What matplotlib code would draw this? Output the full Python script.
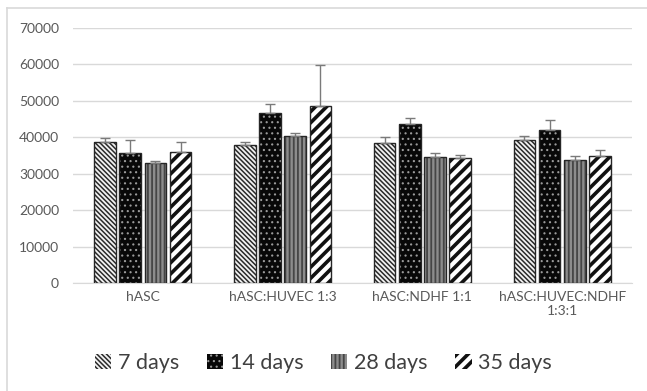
import matplotlib
matplotlib.use("Agg")
import matplotlib.pyplot as plt
import numpy as np

plt.rcParams['font.family'] = ['Lato', 'DejaVu Sans']

categories = ["hASC", "hASC:HUVEC 1:3", "hASC:NDHF 1:1", "hASC:HUVEC:NDHF\n1:3:1"]
series_names = ["7 days", "14 days", "28 days", "35 days"]
values = {
    "7 days":  [38790, 37800, 38430, 39250],
    "14 days": [35600, 46580, 43730, 41920],
    "28 days": [33020, 40350, 34670, 33760],
    "35 days": [35880, 48590, 34310, 34860],
}
errors = {
    "7 days":  [930, 990, 1570, 1180],
    "14 days": [3570, 2470, 1560, 2820],
    "28 days": [470, 910, 1020, 1100],
    "35 days": [2740, 11250, 740, 1540],
}
yticks = [0, 10000, 20000, 30000, 40000, 50000, 60000, 70000]

styles = {
    "7 days":  dict(face="#f2f2f2", hatch="\\" * 7, hcol="#2a2a2a", hlw=1.1),
    "14 days": dict(face="#080808", hatch="...", hcol="#9a9a9a", hlw=0.8),
    "28 days": dict(face="#8c8c8c", hatch="||||", hcol="#454545", hlw=1.3),
    "35 days": dict(face="white", hatch="///", hcol="#111111", hlw=2.6),
}


def set_hlw(p, lw):
    if hasattr(p, 'set_hatch_linewidth'):
        p.set_hatch_linewidth(lw)
    else:
        p._hatch_linewidth = lw


fig = plt.figure(figsize=(6.47, 3.91), dpi=100)
ax = fig.add_axes([73/647, 1-283/391, (632-73)/647, (283-28)/391])

x = np.arange(len(categories))
step = 0.18
width = 0.155
handles = []
for i, name in enumerate(series_names):
    st = styles[name]
    pos = x + (i - 1.5) * step
    plt.rcParams['hatch.linewidth'] = st['hlw']
    bars = ax.bar(pos, values[name], width, color=st['face'], hatch=st['hatch'],
                  edgecolor=st['hcol'], linewidth=0, zorder=2)
    for b in bars:
        set_hlw(b, st['hlw'])
    ax.bar(pos, values[name], width, fill=False, edgecolor="#262626",
           linewidth=1.0, zorder=3)
    ax.errorbar(pos, values[name], yerr=[np.zeros(4), errors[name]], fmt='none',
                ecolor="#7a7a7a", elinewidth=1.0, capsize=3.5, capthick=1.0, zorder=4)
    h = matplotlib.patches.Patch(facecolor=st['face'], hatch=st['hatch'],
                                 edgecolor=st['hcol'], linewidth=0)
    set_hlw(h, st['hlw'])
    handles.append(h)

ax.set_xlim(-0.5, 3.5)
ax.set_ylim(0, 70000)
ax.set_yticks(yticks)
ax.set_yticklabels([str(t) for t in yticks])
ax.set_xticks(x)
ax.set_xticklabels(categories)
ax.yaxis.grid(True, color="#d9d9d9", linewidth=1.0, zorder=0)
ax.set_axisbelow(True)
for s in ['top', 'right', 'left']:
    ax.spines[s].set_visible(False)
ax.spines['bottom'].set_color("#d9d9d9")
ax.tick_params(axis='both', length=0, labelsize=10, colors="#595959", pad=10)
ax.tick_params(axis='x', pad=6)

leg = fig.legend(handles, series_names, loc='center', bbox_to_anchor=(0.5, 1-363/391),
                 ncol=4, frameon=False, fontsize=15.5, handlelength=0.75, handleheight=0.75,
                 handletextpad=0.3, columnspacing=1.3, labelcolor="#404040")
for lh, name in zip(leg.legend_handles, series_names):
    set_hlw(lh, styles[name]['hlw'])
    lh.set_edgecolor(styles[name]['hcol'])

# outer chart frame
fig.add_artist(matplotlib.lines.Line2D([7/647, 7/647], [0, 1-8/391], transform=fig.transFigure,
                                       color="#d9d9d9", linewidth=1.2))
fig.add_artist(matplotlib.lines.Line2D([7/647, 1], [1-8/391, 1-8/391], transform=fig.transFigure,
                                       color="#d9d9d9", linewidth=1.2))

fig.savefig("out.png", dpi=100)
